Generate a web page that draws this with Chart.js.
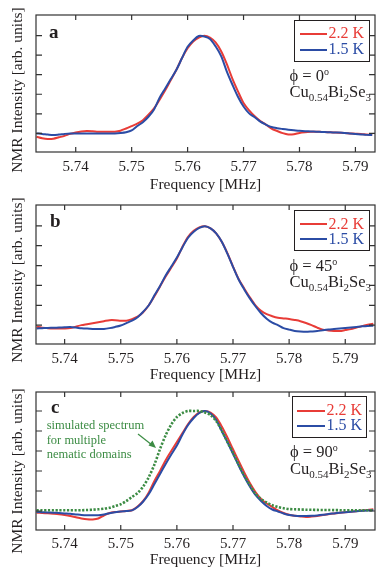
<!DOCTYPE html>
<html>
<head>
<meta charset="utf-8">
<script src="https://cdn.jsdelivr.net/npm/chart.js@4"></script>
<style>
  body { margin: 0; width: 382px; height: 577px; position: relative; overflow: hidden; background: #fff;
         font-family: "Liberation Serif", "Times New Roman", serif; color: #231f20; }
  .panel { position: absolute; left: 0; }
  .t { position: absolute; white-space: nowrap; line-height: 1; }
  .box { position: absolute; border: 1px solid #231f20; box-sizing: border-box; }
  .ln { position: absolute; height: 2px; }
  .sub { font-size: 11px; position: relative; top: 4px; }
  .sup { font-size: 10px; position: relative; top: -6px; }
</style>
</head>
<body>
<div class="panel" style="top:0px"><canvas id="chartA" width="382" height="193"></canvas></div>
<div class="panel" style="top:190px"><canvas id="chartB" width="382" height="193"></canvas></div>
<div class="panel" style="top:377px"><canvas id="chartC" width="382" height="191"></canvas></div>
<svg style="position:absolute;left:0;top:0" width="382" height="577">
  <line x1="138" y1="434" x2="152" y2="445" stroke="#3c8c44" stroke-width="1.2"/>
  <polygon points="156,448 148.5,445.5 152.5,440.5" fill="#3c8c44"/>
</svg>
<script>
// frequencies (MHz)
var freqA = [5.733, 5.734, 5.735, 5.736, 5.737, 5.738, 5.739, 5.740, 5.741, 5.742,
             5.743, 5.744, 5.745, 5.746, 5.747, 5.748, 5.749, 5.750, 5.751, 5.752,
             5.753, 5.754, 5.755, 5.756, 5.757, 5.758, 5.759, 5.760, 5.761, 5.762,
             5.763, 5.764, 5.765, 5.766, 5.767, 5.768, 5.769, 5.770, 5.771, 5.772,
             5.773, 5.774, 5.775, 5.776, 5.777, 5.778, 5.779, 5.780, 5.781, 5.782,
             5.783, 5.784, 5.785, 5.786, 5.787, 5.788, 5.789, 5.790, 5.791, 5.792, 5.793];
var freqBC = [5.735, 5.736, 5.737, 5.738, 5.739, 5.740, 5.741, 5.742, 5.743, 5.744,
              5.745, 5.746, 5.747, 5.748, 5.749, 5.750, 5.751, 5.752, 5.753, 5.754,
              5.755, 5.756, 5.757, 5.758, 5.759, 5.760, 5.761, 5.762, 5.763, 5.764,
              5.765, 5.766, 5.767, 5.768, 5.769, 5.770, 5.771, 5.772, 5.773, 5.774,
              5.775, 5.776, 5.777, 5.778, 5.779, 5.780, 5.781, 5.782, 5.783, 5.784,
              5.785, 5.786, 5.787, 5.788, 5.789, 5.790, 5.791, 5.792, 5.793, 5.794, 5.795];

// panel a, phi = 0
var redA = [-0.035, -0.05, -0.058, -0.055, -0.04, -0.025, -0.005, 0.01, 0.02, 0.024,
            0.022, 0.018, 0.017, 0.017, 0.018, 0.028, 0.05, 0.075, 0.1, 0.135,
            0.19, 0.255, 0.345, 0.44, 0.545, 0.65, 0.77, 0.87, 0.94, 0.98,
            0.998, 0.98, 0.93, 0.84, 0.71, 0.56, 0.43, 0.31, 0.235, 0.175,
            0.126, 0.09, 0.05, 0.025, 0.003, -0.01, -0.008, 0.005, 0.012, 0.016,
            0.017, 0.015, 0.013, 0.01, 0.007, 0.004, 0.0, -0.003, -0.006, -0.012, -0.017];
var blueA = [0.0, -0.005, -0.012, -0.017, -0.012, -0.005, 0.0, 0.0, 0.0, 0.0,
             0.0, 0.0, 0.0, 0.0, 0.0, 0.004, 0.012, 0.03, 0.075, 0.115,
             0.17, 0.245, 0.365, 0.46, 0.555, 0.65, 0.77, 0.885, 0.95, 0.995,
             0.99, 0.965, 0.89, 0.79, 0.635, 0.5, 0.375, 0.275, 0.205, 0.165,
             0.12, 0.09, 0.065, 0.053, 0.045, 0.038, 0.032, 0.026, 0.022, 0.02,
             0.017, 0.015, 0.012, 0.01, 0.008, 0.005, 0.0, -0.005, -0.01, -0.015, -0.017];

// panel b, phi = 45
var redB = [-0.017, -0.025, -0.031, -0.034, -0.034, -0.034, -0.03, -0.015, 0.0, 0.01,
            0.02, 0.03, 0.04, 0.05, 0.05, 0.045, 0.044, 0.06, 0.085, 0.13,
            0.2, 0.29, 0.39, 0.49, 0.58, 0.67, 0.79, 0.89, 0.95, 0.985,
            0.995, 0.975, 0.925, 0.84, 0.725, 0.59, 0.465, 0.37, 0.28, 0.2,
            0.145, 0.11, 0.09, 0.075, 0.068, 0.062, 0.052, 0.04, 0.022, 0.0,
            -0.025, -0.045, -0.053, -0.058, -0.06, -0.05, -0.04, -0.025, -0.01, 0.003, 0.015];
var blueB = [-0.034, -0.031, -0.028, -0.027, -0.025, -0.022, -0.02, -0.025, -0.031, -0.035,
             -0.038, -0.04, -0.038, -0.03, -0.018, -0.003, 0.02, 0.045, 0.08, 0.135,
             0.2, 0.3, 0.395, 0.5, 0.59, 0.68, 0.785, 0.88, 0.94, 0.98,
             0.997, 0.975, 0.925, 0.84, 0.72, 0.587, 0.46, 0.36, 0.27, 0.19,
             0.12, 0.065, 0.025, 0.0, -0.03, -0.045, -0.058, -0.064, -0.067, -0.064,
             -0.06, -0.052, -0.045, -0.04, -0.035, -0.03, -0.024, -0.018, -0.012, -0.008, -0.007];

// panel c, phi = 90
var redC = [-0.017, -0.02, -0.023, -0.027, -0.032, -0.04, -0.05, -0.063, -0.075, -0.083,
            -0.084, -0.075, -0.045, -0.02, -0.01, -0.005, 0.0, 0.008, 0.045, 0.1,
            0.185, 0.3, 0.4, 0.507, 0.6, 0.69, 0.78, 0.87, 0.94, 0.985,
            1.0, 0.985, 0.935, 0.845, 0.735, 0.617, 0.5, 0.385, 0.28, 0.19,
            0.12, 0.075, 0.04, 0.005, -0.02, -0.038, -0.048, -0.055, -0.06, -0.056,
            -0.05, -0.04, -0.032, -0.025, -0.018, -0.012, -0.007, -0.003, 0.005, 0.01, 0.017];
var blueC = [-0.01, -0.012, -0.015, -0.017, -0.02, -0.024, -0.028, -0.034, -0.04, -0.043,
             -0.043, -0.043, -0.035, -0.022, -0.012, -0.004, 0.0, 0.006, 0.04, 0.095,
             0.17, 0.27, 0.37, 0.47, 0.565, 0.655, 0.765, 0.86, 0.93, 0.98,
             1.0, 0.975, 0.91, 0.8, 0.69, 0.573, 0.455, 0.345, 0.245, 0.16,
             0.1, 0.05, 0.015, -0.005, -0.025, -0.04, -0.047, -0.05, -0.05, -0.048,
             -0.044, -0.038, -0.03, -0.024, -0.018, -0.012, -0.007, -0.003, 0.002, 0.006, 0.007];
var simC = [0.007, 0.007, 0.007, 0.007, 0.007, 0.007, 0.007, 0.007, 0.008, 0.01,
            0.013, 0.017, 0.023, 0.032, 0.05, 0.068, 0.1, 0.14, 0.18, 0.245,
            0.34, 0.465, 0.62, 0.757, 0.865, 0.94, 0.98, 1.0, 1.0, 1.0,
            0.985, 0.96, 0.9, 0.805, 0.69, 0.583, 0.465, 0.355, 0.26, 0.175,
            0.12, 0.085, 0.058, 0.04, 0.028, 0.02, 0.017, 0.015, 0.013, 0.012,
            0.011, 0.01, 0.01, 0.009, 0.008, 0.007, 0.007, 0.007, 0.007, 0.007, 0.007];

var xTicks = [5.74, 5.75, 5.76, 5.77, 5.78, 5.79];
var yTicks = [0, 0.2, 0.4, 0.6, 0.8, 1.0];

var RED = '#e83c37', BLUE = '#2b4ca5', GREEN = '#3c8c44', INK = '#231f20';
var FONT = '"Liberation Serif", "Times New Roman", serif';

// box around the plot with inward ticks on all four sides
var framePlugin = {
    id: 'frame',
    afterDraw: function(chart) {
        var ctx = chart.ctx, a = chart.chartArea, x = chart.scales.x, y = chart.scales.y;
        ctx.save();
        ctx.strokeStyle = '#333';
        ctx.lineWidth = 1.2;
        ctx.strokeRect(a.left, a.top, a.right - a.left, a.bottom - a.top);
        ctx.beginPath();
        x.ticks.forEach(function(t) {
            var px = x.getPixelForValue(t.value);
            ctx.moveTo(px, a.bottom); ctx.lineTo(px, a.bottom - 5);
            ctx.moveTo(px, a.top); ctx.lineTo(px, a.top + 5);
        });
        y.ticks.forEach(function(t) {
            var py = y.getPixelForValue(t.value);
            ctx.moveTo(a.left, py); ctx.lineTo(a.left + 6, py);
            ctx.moveTo(a.right, py); ctx.lineTo(a.right - 6, py);
        });
        ctx.stroke();
        ctx.restore();
    }
};

function pts(freq, vals) {
    return freq.map(function(f, i) { return {x: f, y: vals[i]}; });
}

function line(label, freq, vals, color, dotted) {
    return {
        label: label,
        data: pts(freq, vals),
        borderColor: color,
        borderWidth: dotted ? 2.6 : 2,
        borderDash: dotted ? [2.2, 1.6] : [],
        pointRadius: 0,
        tension: 0.3,
        fill: false
    };
}

function makeChart(id, datasets, xr, yr, xHeight, tickPad) {
    return new Chart(document.getElementById(id).getContext('2d'), {
        type: 'line',
        data: { datasets: datasets },
        plugins: [framePlugin],
        options: {
            responsive: false,
            animation: false,
            devicePixelRatio: 1,
            layout: { padding: { top: 15, right: 7, bottom: 0, left: 0 } },
            plugins: { legend: { display: false }, tooltip: { enabled: false } },
            scales: {
                x: {
                    type: 'linear', min: xr[0], max: xr[1],
                    afterBuildTicks: function(s) { s.ticks = xTicks.map(function(v) { return {value: v}; }); },
                    afterFit: function(s) { s.height = xHeight; },
                    grid: { display: false, drawTicks: false },
                    border: { display: false },
                    ticks: {
                        callback: function(v) { return v.toFixed(2); },
                        font: { family: FONT, size: 15 }, color: INK,
                        padding: tickPad, maxRotation: 0, autoSkip: false
                    },
                    title: {
                        display: true, text: 'Frequency [MHz]', color: INK,
                        font: { family: FONT, size: 15.5, lineHeight: 1 },
                        padding: { top: 0, bottom: 0 }
                    }
                },
                y: {
                    type: 'linear', min: yr[0], max: yr[1],
                    afterBuildTicks: function(s) { s.ticks = yTicks.map(function(v) { return {value: v}; }); },
                    afterFit: function(s) { s.width = 36; },
                    grid: { display: false, drawTicks: false },
                    border: { display: false },
                    ticks: { display: false }
                }
            }
        }
    });
}

makeChart('chartA', [line('1.5 K', freqA, blueA, BLUE), line('2.2 K', freqA, redA, RED)],
          [5.7329, 5.7935], [-0.19, 1.21], 41, 6.5);
makeChart('chartB', [line('1.5 K', freqBC, blueB, BLUE), line('2.2 K', freqBC, redB, RED)],
          [5.7349, 5.7953], [-0.19, 1.21], 39, 6);
makeChart('chartC', [line('simulated', freqBC, simC, GREEN, true),
                     line('1.5 K', freqBC, blueC, BLUE), line('2.2 K', freqBC, redC, RED)],
          [5.7349, 5.7953], [-0.19, 1.19], 38, 5);

// text overlays, placed by baseline
function put(html, x, base, size, color, bold) {
    var d = document.createElement('div');
    d.className = 't';
    d.innerHTML = html;
    d.style.left = x + 'px';
    d.style.top = (base - 0.8375 * size) + 'px';
    d.style.fontSize = size + 'px';
    d.style.color = color || INK;
    if (bold) d.style.fontWeight = 'bold';
    document.body.appendChild(d);
}

function yTitle(cy) {
    var d = document.createElement('div');
    d.className = 't';
    d.textContent = 'NMR Intensity [arb. units]';
    d.style.width = '200px';
    d.style.height = '16px';
    d.style.lineHeight = '16px';
    d.style.textAlign = 'center';
    d.style.fontSize = '15.5px';
    d.style.left = (16.5 - 100) + 'px';
    d.style.top = (cy - 8) + 'px';
    d.style.transform = 'rotate(-90deg)';
    document.body.appendChild(d);
}

function legend(box, rows, lineX, textX) {
    var b = document.createElement('div');
    b.className = 'box';
    b.style.left = box[0] + 'px'; b.style.top = box[1] + 'px';
    b.style.width = (box[2] - box[0]) + 'px'; b.style.height = (box[3] - box[1]) + 'px';
    document.body.appendChild(b);
    [['2.2 K', RED], ['1.5 K', BLUE]].forEach(function(e, i) {
        var l = document.createElement('div');
        l.className = 'ln';
        l.style.background = e[1];
        l.style.left = lineX[0] + 'px';
        l.style.width = (lineX[1] - lineX[0]) + 'px';
        l.style.top = (rows[i] - 1) + 'px';
        document.body.appendChild(l);
        put(e[0], textX, rows[i] + 5.3, 16, e[1]);
    });
}

var compound = 'Cu<span class="sub">0.54</span>Bi<span class="sub">2</span>Se<span class="sub">3</span>';

// panel a
put('a', 49, 38, 19, INK, true);
legend([294, 20, 370, 62], [33.5, 49.5], [300, 327], 328.5);
put('&#981; = 0<span class="sup">o</span>', 289.5, 81.5, 16.5);
put(compound, 289.5, 98, 16.5);
yTitle(90);

// panel b
put('b', 50, 227, 19, INK, true);
legend([294, 209.5, 370, 251], [224, 239], [300, 327], 328.5);
put('&#981; = 45<span class="sup">o</span>', 289.5, 271.7, 16.5);
put(compound, 289.5, 288.3, 16.5);
yTitle(280);

// panel c
put('c', 51, 413, 19, INK, true);
legend([292, 395.5, 367, 437.5], [410.5, 425.5], [297, 325], 326.5);
put('&#981; = 90<span class="sup">o</span>', 290, 457.7, 16.5);
put(compound, 290, 475, 16.5);
put('simulated spectrum', 46.7, 429.7, 12.5, GREEN);
put('for multiple', 46.7, 444.3, 12.5, GREEN);
put('nematic domains', 46.7, 458.7, 12.5, GREEN);
yTitle(471);
</script>
</body>
</html>
